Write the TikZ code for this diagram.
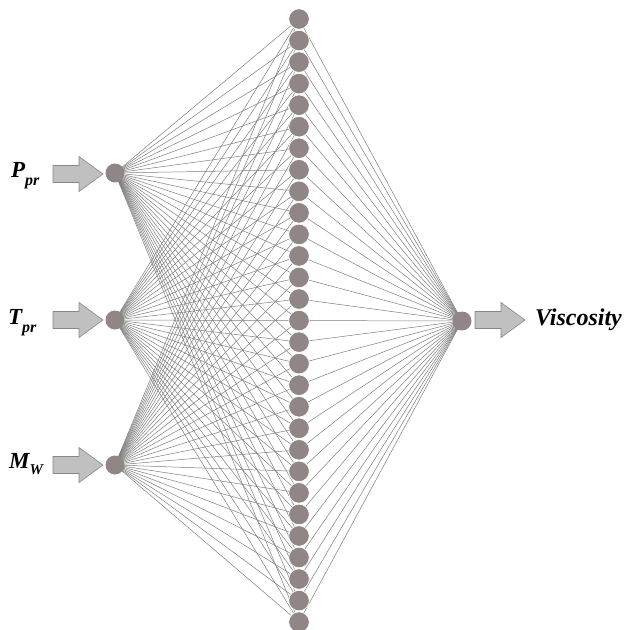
\documentclass[tikz,border=0pt]{standalone}
\usepackage{fontspec}
\setmainfont{Liberation Serif}
\definecolor{nodefill}{RGB}{145,134,134}
\definecolor{arrfill}{RGB}{192,192,192}
\definecolor{arrdraw}{RGB}{135,135,135}
\definecolor{linecol}{RGB}{125,125,125}
\tikzset{
  neuron/.style={circle,fill=nodefill,draw=white,line width=0.6pt,minimum size=20.5pt,inner sep=0pt},
  conn/.style={draw=linecol,line width=0.5pt},
  barrow/.style={fill=arrfill,draw=arrdraw,line width=0.6pt},
  lab/.style={inner sep=0pt,font=\fontsize{23}{26}\selectfont\bfseries\itshape},
}
\newcommand\blockarrow[2]{%
  \draw[barrow] (#1,#2-8.5) -- ++(26,0) -- ++(0,-9) -- ++(24,17.5) -- ++(-24,17.5) -- ++(0,-9) -- ++(-26,0) -- cycle;}
\begin{document}
\begin{tikzpicture}[x=1pt,y=-1pt]
\useasboundingbox (0,0) rectangle (629,630);
% coordinates for nodes
\foreach \j in {1,...,29}{
  \coordinate (hc\j) at (299,{19+(\j-1)*21.54});
}
\coordinate (ic1) at (115,173);
\coordinate (ic2) at (115,320);
\coordinate (ic3) at (115,465);
\coordinate (oc) at (462,321);
% connections
\foreach \i in {1,2,3}{
  \foreach \j in {1,...,29}{
    \draw[conn] (ic\i) -- (hc\j);
  }
}
\foreach \j in {1,...,29}{
  \draw[conn] (hc\j) -- (oc);
}
% neurons
\foreach \j in {1,...,29}{
  \node[neuron] (h\j) at (hc\j) {};
}
\node[neuron,minimum size=19pt,draw=none] (i1) at (ic1) {};
\node[neuron,minimum size=19pt,draw=none] (i2) at (ic2) {};
\node[neuron,minimum size=19pt,draw=none] (i3) at (ic3) {};
\node[neuron,minimum size=19pt,draw=none] (o) at (oc) {};
% block arrows
\blockarrow{53}{174}
\blockarrow{53}{320}
\blockarrow{53}{465}
\blockarrow{475}{320}
% labels
\node[lab,anchor=base west] (lp) at (11,177) {P\raisebox{-0.35em}{\fontsize{16}{18}\selectfont pr}};
\node[lab,anchor=base west] (lt) at (8,324) {T\raisebox{-0.35em}{\fontsize{16}{18}\selectfont pr}};
\node[lab,anchor=base west] (lm) at (9,468) {M\raisebox{-0.3em}{\fontsize{15}{18}\selectfont W}};
\node[lab,anchor=base west,font=\fontsize{24}{28}\selectfont\bfseries\itshape] (lv) at (535,325) {Viscosity};
\end{tikzpicture}
\end{document}
